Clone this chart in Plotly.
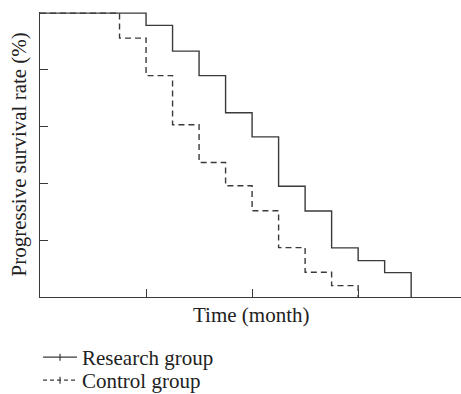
import plotly.graph_objects as go

# Data (time in months, survival in %)
research_time = [0, 10, 12.5, 15, 17.5, 20, 22.5, 25, 27.5, 30, 32.5, 35]
research_surv = [100, 95.7, 86.6, 78.0, 64.9, 56.4, 39.0, 30.3, 17.3, 12.8, 8.6, 0]

control_time = [0, 7.5, 10, 12.5, 15, 17.5, 20, 22.5, 25, 27.5, 30]
control_surv = [100, 91.2, 78.0, 60.7, 47.4, 39.2, 30.4, 17.4, 8.7, 4.0, 0]

x_ticks = [10, 20, 30]
y_ticks = [20, 40, 60, 80]

LINE = "#3a3a3a"
FONT = "Liberation Serif, DejaVu Serif, serif"
FS = 21
DASH = "6px,4px"

fig = go.Figure()
fig.add_trace(go.Scatter(x=research_time, y=research_surv, mode="lines", line_shape="hv",
                         line=dict(color=LINE, width=1.4), showlegend=False, name="Research group"))
fig.add_trace(go.Scatter(x=control_time, y=control_surv, mode="lines", line_shape="hv",
                         line=dict(color=LINE, width=1.4, dash=DASH), showlegend=False, name="Control group"))
# legend-only entries
fig.add_trace(go.Scatter(x=[None], y=[None], mode="lines+markers", name="Research group",
                         line=dict(color=LINE, width=1.4), legend="legend",
                         marker=dict(symbol="line-ns", size=5, line=dict(color=LINE, width=1.2))))
fig.add_trace(go.Scatter(x=[None], y=[None], mode="lines+markers", name="Control group",
                         line=dict(color=LINE, width=1.4, dash="4px,3px"), legend="legend2",
                         marker=dict(symbol="line-ns", size=5, line=dict(color=LINE, width=1.2))))

leg_common = dict(xref="container", yref="container", xanchor="left", yanchor="top",
                  orientation="v", font=dict(family=FONT, size=FS, color="#222"),
                  itemwidth=34, bgcolor="rgba(0,0,0,0)")

fig.update_layout(
    width=461, height=394,
    margin=dict(l=40, r=0, t=12, b=97, autoexpand=False),
    paper_bgcolor="white", plot_bgcolor="white",
    font=dict(family=FONT, size=FS, color="#222"),
    showlegend=True,
    legend=dict(x=0.0825, y=0.1447, **leg_common),
    legend2=dict(x=0.0825, y=0.0863, **leg_common),
    xaxis=dict(range=[0, 39.7], showgrid=False, zeroline=False, showline=True,
               linecolor=LINE, linewidth=1.4, ticks="inside", ticklen=8, tickcolor=LINE,
               tickwidth=1.4, tickvals=x_ticks, showticklabels=False),
    yaxis=dict(range=[0, 100.4], showgrid=False, zeroline=False, showline=True,
               linecolor=LINE, linewidth=1.4, ticks="inside", ticklen=8, tickcolor=LINE,
               tickwidth=1.4, tickvals=y_ticks, showticklabels=False),
    annotations=[
        dict(text="Time (month)", xref="paper", yref="paper", x=0.5, y=-0.0634,
             xanchor="center", yanchor="middle", showarrow=False,
             font=dict(family=FONT, size=FS, color="#222")),
        dict(text="Progressive survival rate (%)", xref="paper", yref="paper",
             x=-0.0499, y=0.5, xanchor="center", yanchor="middle", textangle=-90,
             showarrow=False, font=dict(family=FONT, size=FS, color="#222")),
    ],
)

fig.write_html("out.html", config={"displayModeBar": False},
               post_script="document.body.style.margin='0';")
